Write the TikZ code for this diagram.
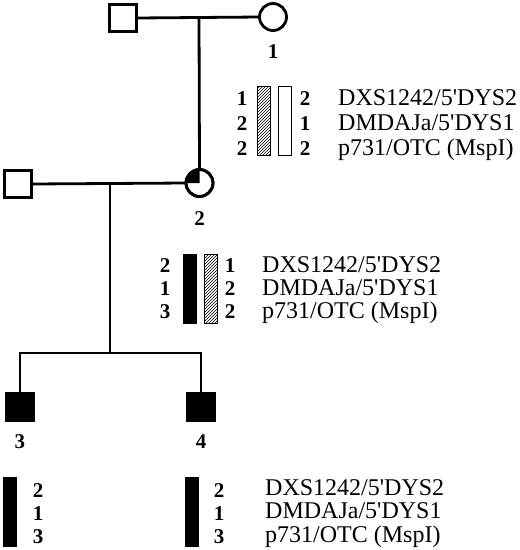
\documentclass[tikz,border=0pt]{standalone}
\usepackage{fontspec}
\setmainfont{Liberation Serif}
\newfontfamily\markerfont{Liberation Serif}
\usetikzlibrary{patterns}
\begin{document}
\begin{tikzpicture}[x=1pt,y=-1pt,
  ped/.style={line width=2.8pt},
  male/.style={draw,line width=2.8pt,minimum size=27pt,inner sep=0pt,outer sep=0pt},
  female/.style={draw,circle,line width=2.8pt,minimum size=27pt,inner sep=0pt,outer sep=0pt},
  affected/.style={fill=black},
  pid/.style={font=\fontsize{21}{21}\selectfont\bfseries,anchor=base,inner sep=0pt},
  allele/.style={font=\fontsize{21}{21}\selectfont\bfseries,anchor=base,inner sep=0pt},
  marker/.style={font=\markerfont\fontsize{24}{24}\selectfont,anchor=base west,inner sep=0pt},
  bar/.style={draw,line width=0.8pt,minimum width=13pt,minimum height=69pt,inner sep=0pt,outer sep=0pt},
  blackbar/.style={bar,fill=black},
  hatchbar/.style={bar,pattern=north east lines},
  whitebar/.style={bar,fill=white}]
\useasboundingbox (0,0) rectangle (520,550);

% generation I
\node[male] (f1) at (123,18) {};
\node[female] (m1) at (273,17) {};
\node[pid] (l1) at (273,58) {1};
% generation II
\node[male] (f2) at (18,184) {};
\node[female] (m2) at (199.5,183) {};
\fill (m2.center) -- (m2.west) arc (180:90:13.5pt) -- cycle;
\node[female] at (m2) {};
\node[pid] (l2) at (199.5,225) {2};
% generation III
\node[male,affected] (s3) at (20,407) {};
\node[male,affected] (s4) at (201,407) {};
\node[pid] (l3) at (20,448) {3};
\node[pid] (l4) at (201,448) {4};

% connectors
\coordinate (mm1) at (199,17);
\coordinate (mm2) at (110,184);
\coordinate (sibL) at (20,353);
\coordinate (sibM) at (110,353);
\coordinate (sibR) at (201,353);
\draw[ped] (f1.east) -- (m1.west);
\draw[ped] (mm1) -- (m2.north);
\draw[ped] (f2.east) -- (m2.west);
\draw[ped] (mm2) -- (sibM);
\draw[ped] (s3.north) -- (sibL) -- (sibR) -- (s4.north);

% haplotypes individual 1
\node[hatchbar] (h1a) at (264,121) {};
\node[whitebar] (h1b) at (285,121) {};
\node[allele] at (242,105) {1};
\node[allele] at (242,130) {2};
\node[allele] at (242,155) {2};
\node[allele] at (305,105) {2};
\node[allele] at (305,130) {1};
\node[allele] at (305,155) {2};
\node[marker] (t1a) at (338,105) {DXS1242/5'DYS2};
\node[marker] (t1b) at (338,130) {DMDAJa/5'DYS1};
\node[marker] (t1c) at (338,155) {p731/OTC (MspI)};

% haplotypes individual 2
\node[blackbar] (h2a) at (190,288.5) {};
\node[hatchbar] (h2b) at (211,288.5) {};
\node[allele] at (165,272) {2};
\node[allele] at (165,295) {1};
\node[allele] at (165,318) {3};
\node[allele] at (230,272) {1};
\node[allele] at (230,295) {2};
\node[allele] at (230,318) {2};
\node[marker] (t2a) at (262,272) {DXS1242/5'DYS2};
\node[marker] (t2b) at (262,295) {DMDAJa/5'DYS1};
\node[marker] (t2c) at (262,318) {p731/OTC (MspI)};

% haplotypes individuals 3 and 4
\node[blackbar] (h3) at (10,512) {};
\node[blackbar] (h4) at (191.5,512) {};
\node[allele] at (38,497) {2};
\node[allele] at (38,520) {1};
\node[allele] at (38,543) {3};
\node[allele] at (219,497) {2};
\node[allele] at (219,520) {1};
\node[allele] at (219,543) {3};
\node[marker] (t3a) at (265,495) {DXS1242/5'DYS2};
\node[marker] (t3b) at (265,518) {DMDAJa/5'DYS1};
\node[marker] (t3c) at (265,542) {p731/OTC (MspI)};
\end{tikzpicture}
\end{document}
